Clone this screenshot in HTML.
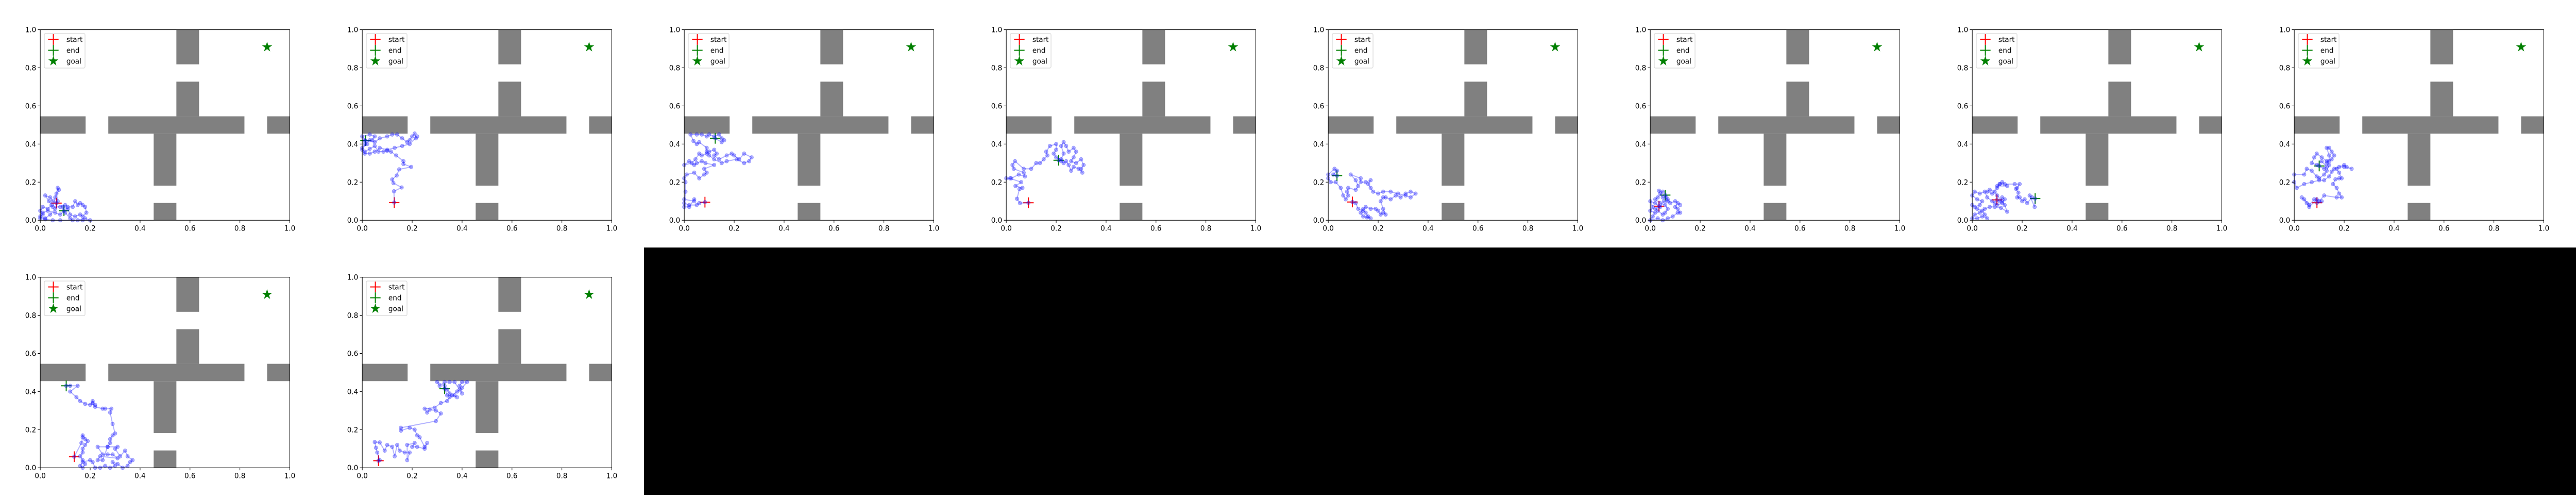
<!DOCTYPE html>
<html><head><meta charset="utf-8">
<style>
html,body{margin:0;padding:0;background:#000;width:100%;height:100%;overflow:hidden;}
#fig{position:fixed;left:0;top:0;width:100vw;height:100vh;background:#000;overflow:hidden;}
svg{position:absolute;left:0;top:0;width:100%;height:100%;display:block;}
text{font-family:"DejaVu Sans","Liberation Sans",sans-serif;font-size:13.9px;fill:#000;}
</style></head>
<body>
<div id="fig">
<svg id="chart" viewBox="0 0 5120 960" preserveAspectRatio="none" xmlns="http://www.w3.org/2000/svg"></svg>
</div>
<script>
const xTicks = [0, 0.2, 0.4, 0.6, 0.8, 1.0];
const yTicks = [0, 0.2, 0.4, 0.6, 0.8, 1.0];
const tickLabels = ["0.0", "0.2", "0.4", "0.6", "0.8", "1.0"];
const goal = [0.909, 0.909];
const obstacles = [
  [0, 0.4545, 0.1818, 0.5455], [0.2727, 0.4545, 0.8182, 0.5455], [0.9091, 0.4545, 1.0, 0.5455],
  [0.5455, 0.5455, 0.6364, 0.7273], [0.5455, 0.8182, 0.6364, 1.0],
  [0.4545, 0.1818, 0.5455, 0.4545], [0.4545, 0.0, 0.5455, 0.0909]
];
const legendLabels = ["start", "end", "goal"];

const traj1 = [[0.065,0.09],[0.05,0.1],[0.04,0.12],[0.02,0.13],[0.035,0.1],[0.045,0.08],[0.03,0.06],[0.01,0.07],[0.0,0.05],[0.01,0.03],[0.0,0.02],[0.02,0.01],[0.04,0.03],[0.06,0.06],[0.07,0.1],[0.065,0.14],[0.07,0.17],[0.075,0.16],[0.06,0.12],[0.05,0.07],[0.08,0.07],[0.1,0.08],[0.11,0.07],[0.13,0.07],[0.14,0.1],[0.15,0.08],[0.16,0.09],[0.17,0.08],[0.18,0.07],[0.185,0.04],[0.17,0.02],[0.16,0.03],[0.14,0.02],[0.12,0.03],[0.11,0.06],[0.09,0.07],[0.1,0.04],[0.12,0.01],[0.13,0.0],[0.15,0.0],[0.18,0.01],[0.2,0.0],[0.17,0.0],[0.08,0.0],[0.05,0.0],[0.02,0.005],[0.0,0.01],[0.01,0.04],[0.03,0.05],[0.06,0.04],[0.08,0.03],[0.095,0.05]];
const traj2 = [[0.128,0.093],[0.127,0.152],[0.158,0.172],[0.125,0.195],[0.12,0.214],[0.138,0.235],[0.148,0.267],[0.196,0.28],[0.165,0.295],[0.165,0.31],[0.136,0.34],[0.115,0.36],[0.1,0.365],[0.085,0.36],[0.065,0.36],[0.05,0.39],[0.03,0.375],[0.01,0.36],[0.0,0.37],[0.01,0.4],[0.03,0.42],[0.05,0.41],[0.07,0.43],[0.1,0.44],[0.12,0.45],[0.14,0.45],[0.16,0.43],[0.18,0.41],[0.19,0.42],[0.2,0.44],[0.21,0.455],[0.215,0.43],[0.22,0.44],[0.19,0.4],[0.16,0.39],[0.13,0.38],[0.1,0.37],[0.07,0.38],[0.05,0.36],[0.03,0.35],[0.01,0.35],[0.0,0.38],[0.02,0.4],[0.01,0.42],[0.0,0.44],[0.03,0.45],[0.05,0.44],[0.04,0.42],[0.013,0.418]];
const traj3 = [[0.083,0.095],[0.06,0.09],[0.05,0.08],[0.02,0.08],[0.0,0.09],[0.0,0.11],[0.04,0.1],[0.04,0.11],[0.02,0.07],[0.0,0.07],[0.005,0.15],[0.005,0.2],[0.0,0.22],[0.01,0.24],[0.04,0.25],[0.06,0.22],[0.08,0.24],[0.09,0.25],[0.08,0.27],[0.12,0.29],[0.085,0.3],[0.07,0.31],[0.05,0.3],[0.04,0.29],[0.02,0.31],[0.0,0.29],[0.03,0.3],[0.045,0.32],[0.06,0.35],[0.07,0.34],[0.09,0.35],[0.1,0.36],[0.12,0.37],[0.13,0.35],[0.12,0.34],[0.14,0.32],[0.17,0.34],[0.19,0.35],[0.2,0.34],[0.22,0.32],[0.24,0.35],[0.27,0.33],[0.26,0.31],[0.24,0.3],[0.21,0.32],[0.17,0.31],[0.15,0.3],[0.12,0.32],[0.1,0.34],[0.09,0.36],[0.09,0.38],[0.06,0.41],[0.05,0.4],[0.037,0.416],[0.025,0.45],[0.05,0.45],[0.07,0.45],[0.09,0.44],[0.1,0.45],[0.12,0.44],[0.14,0.45],[0.15,0.43],[0.16,0.42],[0.15,0.41],[0.124,0.43]];
const traj4 = [[0.089,0.092],[0.055,0.09],[0.043,0.113],[0.053,0.164],[0.065,0.17],[0.037,0.18],[0.06,0.2],[0.015,0.22],[0.0,0.22],[0.02,0.22],[0.05,0.24],[0.075,0.23],[0.07,0.25],[0.03,0.27],[0.025,0.29],[0.035,0.31],[0.07,0.27],[0.1,0.27],[0.12,0.3],[0.135,0.3],[0.15,0.32],[0.165,0.34],[0.16,0.36],[0.175,0.39],[0.2,0.4],[0.2,0.37],[0.19,0.35],[0.2,0.33],[0.22,0.32],[0.23,0.35],[0.22,0.39],[0.23,0.41],[0.24,0.39],[0.25,0.36],[0.27,0.38],[0.28,0.36],[0.27,0.33],[0.26,0.31],[0.28,0.3],[0.3,0.32],[0.31,0.29],[0.3,0.27],[0.305,0.25],[0.29,0.27],[0.27,0.28],[0.26,0.26],[0.25,0.29],[0.24,0.31],[0.23,0.3],[0.22,0.31],[0.21,0.315]];
const traj5 = [[0.097,0.096],[0.11,0.09],[0.12,0.06],[0.14,0.05],[0.15,0.04],[0.16,0.02],[0.17,0.01],[0.155,0.015],[0.14,0.02],[0.13,0.04],[0.14,0.06],[0.15,0.07],[0.17,0.06],[0.19,0.06],[0.2,0.05],[0.21,0.03],[0.22,0.04],[0.23,0.03],[0.22,0.06],[0.21,0.1],[0.22,0.12],[0.23,0.12],[0.25,0.11],[0.27,0.13],[0.29,0.12],[0.31,0.14],[0.33,0.15],[0.35,0.14],[0.33,0.12],[0.31,0.13],[0.28,0.14],[0.25,0.15],[0.22,0.15],[0.2,0.14],[0.18,0.15],[0.17,0.17],[0.16,0.19],[0.17,0.21],[0.15,0.2],[0.13,0.2],[0.13,0.22],[0.09,0.24],[0.11,0.21],[0.12,0.18],[0.11,0.16],[0.08,0.17],[0.075,0.15],[0.08,0.13],[0.07,0.11],[0.06,0.13],[0.05,0.17],[0.03,0.2],[0.01,0.2],[0.0,0.22],[0.0,0.24],[0.025,0.27],[0.035,0.26],[0.02,0.24],[0.035,0.234]];
const traj6 = [[0.035,0.074],[0.02,0.09],[0.0,0.1],[0.01,0.07],[0.0,0.05],[0.02,0.04],[0.01,0.02],[0.0,0.0],[0.03,0.01],[0.05,0.0],[0.07,0.01],[0.09,0.02],[0.11,0.04],[0.12,0.04],[0.11,0.06],[0.1,0.07],[0.11,0.09],[0.12,0.08],[0.1,0.1],[0.08,0.09],[0.07,0.11],[0.05,0.12],[0.04,0.14],[0.035,0.155],[0.05,0.15],[0.03,0.12],[0.02,0.11],[0.04,0.09],[0.06,0.08],[0.07,0.06],[0.06,0.04],[0.05,0.03],[0.03,0.05],[0.02,0.06],[0.04,0.07],[0.055,0.1],[0.07,0.1],[0.065,0.12],[0.06,0.132]];
const traj7 = [[0.099,0.107],[0.11,0.1],[0.12,0.12],[0.13,0.11],[0.12,0.09],[0.1,0.08],[0.09,0.09],[0.08,0.1],[0.06,0.12],[0.05,0.15],[0.03,0.14],[0.01,0.15],[0.0,0.13],[0.02,0.11],[0.04,0.1],[0.03,0.08],[0.01,0.07],[0.0,0.08],[0.02,0.06],[0.04,0.05],[0.05,0.03],[0.06,0.01],[0.04,0.02],[0.02,0.01],[0.0,0.01],[0.01,0.03],[0.03,0.04],[0.05,0.06],[0.07,0.07],[0.09,0.07],[0.115,0.065],[0.14,0.045],[0.13,0.08],[0.12,0.1],[0.1,0.13],[0.09,0.15],[0.07,0.16],[0.06,0.15],[0.08,0.14],[0.1,0.17],[0.11,0.19],[0.12,0.2],[0.13,0.19],[0.14,0.18],[0.1,0.18],[0.11,0.19],[0.17,0.19],[0.19,0.19],[0.18,0.17],[0.175,0.165],[0.185,0.145],[0.18,0.12],[0.19,0.12],[0.2,0.1],[0.21,0.11],[0.22,0.09],[0.24,0.12],[0.23,0.13],[0.25,0.07],[0.252,0.114]];
const traj8 = [[0.091,0.092],[0.11,0.1],[0.09,0.11],[0.06,0.07],[0.05,0.09],[0.03,0.12],[0.04,0.11],[0.06,0.08],[0.08,0.11],[0.1,0.1],[0.12,0.13],[0.17,0.12],[0.19,0.12],[0.18,0.14],[0.17,0.17],[0.155,0.19],[0.165,0.215],[0.18,0.22],[0.19,0.22],[0.18,0.25],[0.17,0.27],[0.18,0.28],[0.2,0.28],[0.23,0.27],[0.21,0.28],[0.2,0.29],[0.16,0.27],[0.15,0.255],[0.14,0.23],[0.12,0.21],[0.1,0.21],[0.07,0.2],[0.04,0.19],[0.01,0.17],[0.0,0.2],[0.0,0.24],[0.04,0.24],[0.05,0.27],[0.07,0.26],[0.09,0.23],[0.1,0.22],[0.12,0.24],[0.13,0.26],[0.14,0.29],[0.13,0.3],[0.14,0.31],[0.14,0.34],[0.13,0.38],[0.14,0.38],[0.15,0.36],[0.16,0.34],[0.15,0.32],[0.13,0.31],[0.11,0.33],[0.09,0.35],[0.08,0.33],[0.07,0.3],[0.09,0.29],[0.11,0.31],[0.13,0.28],[0.12,0.27],[0.1,0.285]];
const traj9 = [[0.136,0.058],[0.165,0.13],[0.17,0.16],[0.17,0.17],[0.18,0.15],[0.19,0.14],[0.18,0.12],[0.17,0.1],[0.17,0.08],[0.16,0.06],[0.17,0.04],[0.18,0.02],[0.17,0.0],[0.16,0.01],[0.17,0.03],[0.2,0.04],[0.21,0.03],[0.22,0.0],[0.24,0.0],[0.26,0.01],[0.28,0.0],[0.3,0.01],[0.29,0.03],[0.31,0.02],[0.33,0.0],[0.35,0.01],[0.36,0.03],[0.37,0.04],[0.35,0.06],[0.34,0.09],[0.32,0.06],[0.3,0.1],[0.31,0.11],[0.27,0.11],[0.23,0.11],[0.25,0.07],[0.27,0.07],[0.29,0.07],[0.31,0.05],[0.24,0.06],[0.23,0.04],[0.25,0.04],[0.27,0.11],[0.28,0.13],[0.28,0.15],[0.29,0.17],[0.3,0.18],[0.29,0.23],[0.28,0.29],[0.285,0.31],[0.26,0.31],[0.25,0.31],[0.22,0.32],[0.21,0.35],[0.2,0.33],[0.21,0.34],[0.22,0.33],[0.18,0.335],[0.16,0.35],[0.145,0.37],[0.12,0.4],[0.15,0.43],[0.12,0.43],[0.104,0.43]];
const traj10 = [[0.065,0.037],[0.07,0.04],[0.06,0.08],[0.055,0.105],[0.05,0.135],[0.07,0.133],[0.09,0.09],[0.1,0.12],[0.12,0.11],[0.13,0.06],[0.14,0.12],[0.15,0.09],[0.17,0.08],[0.19,0.08],[0.18,0.04],[0.18,0.12],[0.21,0.13],[0.2,0.11],[0.22,0.11],[0.25,0.1],[0.26,0.13],[0.25,0.11],[0.23,0.16],[0.22,0.17],[0.21,0.2],[0.19,0.21],[0.155,0.195],[0.155,0.21],[0.295,0.245],[0.315,0.285],[0.295,0.3],[0.27,0.305],[0.26,0.29],[0.25,0.31],[0.29,0.315],[0.315,0.34],[0.34,0.35],[0.35,0.37],[0.37,0.38],[0.38,0.37],[0.35,0.39],[0.34,0.41],[0.33,0.43],[0.3,0.45],[0.31,0.43],[0.33,0.45],[0.35,0.45],[0.37,0.45],[0.39,0.41],[0.4,0.39],[0.39,0.43],[0.4,0.45],[0.42,0.45],[0.4,0.42],[0.38,0.4],[0.36,0.38],[0.34,0.38],[0.33,0.415]];
const trajectories = [traj1, traj2, traj3, traj4, traj5, traj6, traj7, traj8, traj9, traj10];

const NS = "http://www.w3.org/2000/svg";
const svg = document.getElementById("chart");
const AX_L = 80, AX_R = 576, AX_T = 57.6, AX_B = 427.2;
function mk(tag, attrs, parent) {
  const e = document.createElementNS(NS, tag);
  for (const k in attrs) e.setAttribute(k, attrs[k]);
  parent.appendChild(e);
  return e;
}
function starPts(cx, cy, R) {
  const r = R * 0.382; const p = [];
  for (let i = 0; i < 10; i++) {
    const a = -Math.PI / 2 + i * Math.PI / 5; const rr = i % 2 ? r : R;
    p.push((cx + rr * Math.cos(a)).toFixed(2) + "," + (cy + rr * Math.sin(a)).toFixed(2));
  }
  return p.join(" ");
}
function plus(g, cx, cy, color) {
  mk("line", {x1: cx - 10.4, y1: cy, x2: cx + 10.4, y2: cy, stroke: color, "stroke-width": 2}, g);
  mk("line", {x1: cx, y1: cy - 10.4, x2: cx, y2: cy + 10.4, stroke: color, "stroke-width": 2}, g);
}

trajectories.forEach((traj, i) => {
  const col = i % 8, row = Math.floor(i / 8);
  const ox = col * 640, oy = row * 480;
  const xs = v => ox + AX_L + v * (AX_R - AX_L);
  const ys = v => oy + AX_B - v * (AX_B - AX_T);
  const g = mk("g", {}, svg);
  
  
  mk("rect", {x: ox, y: oy, width: 640, height: 480, fill: "#fff"}, g);
  obstacles.forEach(o => {
    const r = mk("rect", {x: xs(o[0]), y: ys(o[3]), width: xs(o[2]) - xs(o[0]), height: ys(o[1]) - ys(o[3]), fill: "#808080"}, g);
    
    
  });
  const st = traj[0], en = traj[traj.length - 1];
  const sg = mk("g", {}, g);
  
  
  plus(sg, xs(st[0]), ys(st[1]), "#ff0000");
  const eg = mk("g", {}, g);
  
  
  plus(eg, xs(en[0]), ys(en[1]), "#008000");
  const pts = traj.map(p => xs(p[0]).toFixed(1) + "," + ys(p[1]).toFixed(1)).join(" ");
  const pl = mk("polyline", {points: pts, fill: "none", stroke: "#0000ff", "stroke-opacity": 0.3, "stroke-width": 2}, g);
  
  
  traj.forEach(p => {
    const c = mk("circle", {cx: xs(p[0]), cy: ys(p[1]), r: 3.6, fill: "#0000ff", "fill-opacity": 0.3, stroke: "#0000ff", "stroke-opacity": 0.3, "stroke-width": 1}, g);
    
    
  });
  const gs = mk("polygon", {points: starPts(xs(goal[0]), ys(goal[1]), 10.5), fill: "#008000"}, g);
  
  
  const fr = mk("rect", {x: ox + AX_L, y: oy + AX_T, width: AX_R - AX_L, height: AX_B - AX_T, fill: "none", stroke: "#000", "stroke-width": 1.1}, g);
  
  
  xTicks.forEach((t, k) => {
    mk("line", {x1: xs(t), y1: oy + AX_B, x2: xs(t), y2: oy + AX_B + 4.9, stroke: "#000", "stroke-width": 1.1}, g);
    const tx = mk("text", {x: xs(t), y: oy + AX_B + 20.5, "text-anchor": "middle"}, g);
    tx.textContent = tickLabels[k];
    
    
  });
  yTicks.forEach((t, k) => {
    mk("line", {x1: ox + AX_L - 4.9, y1: ys(t), x2: ox + AX_L, y2: ys(t), stroke: "#000", "stroke-width": 1.1}, g);
    const ty = mk("text", {x: ox + AX_L - 8, y: ys(t) + 5, "text-anchor": "end"}, g);
    ty.textContent = tickLabels[k];
    
    
  });
  const lg = mk("g", {}, g);
  
  
  mk("rect", {x: ox + 88, y: oy + 65, width: 81, height: 67, rx: 2.5, fill: "#fff", "fill-opacity": 0.8, stroke: "#cccccc", "stroke-width": 1}, lg);
  const rowsY = [76.5, 97.5, 118.5];
  plus(lg, ox + 106, oy + rowsY[0], "#ff0000");
  plus(lg, ox + 106, oy + rowsY[1], "#008000");
  mk("polygon", {points: starPts(ox + 106, oy + rowsY[2], 10.5), fill: "#008000"}, lg);
  legendLabels.forEach((l, k) => {
    const t = mk("text", {x: ox + 132, y: oy + rowsY[k] + 5}, lg);
    t.textContent = l;
    
    
  });
});
</script>
</body></html>
